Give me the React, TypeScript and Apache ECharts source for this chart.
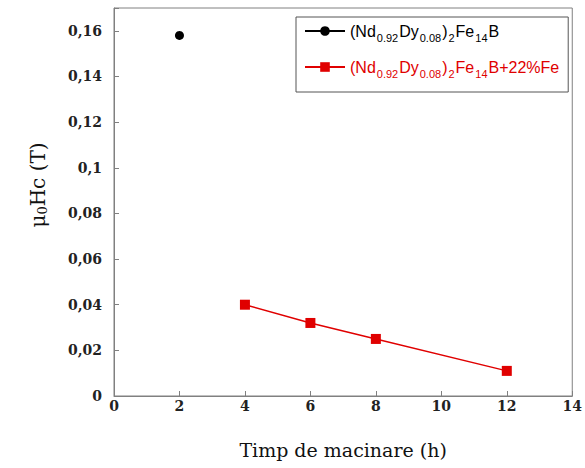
import React, { useEffect, useRef } from "react";
import * as echarts from "echarts";

const seriesNames = ["(Nd0.92Dy0.08)2Fe14B", "(Nd0.92Dy0.08)2Fe14B+22%Fe"];
const seriesColors = ["#000000", "#e00000"];
const seriesSymbols = ["circle", "rect"];
const hoursA = [2];
const valuesA = [0.158];
const hoursB = [4, 6, 8, 12];
const valuesB = [0.04, 0.032, 0.025, 0.011];
const xTickValues = [0, 2, 4, 6, 8, 10, 12, 14];
const yTickValues = [0, 0.02, 0.04, 0.06, 0.08, 0.1, 0.12, 0.14, 0.16];

const legendRich = (color: string) => ({
  m: { fontSize: 16, fontFamily: "Liberation Sans", color, lineHeight: 24, verticalAlign: "middle" },
  s: { fontSize: 11, fontFamily: "Liberation Sans", color, lineHeight: 24, verticalAlign: "bottom", padding: [0, 1, 0, 1] },
});

export default function App() {
  const ref = useRef<HTMLDivElement>(null);
  useEffect(() => {
    const chart = echarts.init(ref.current!, undefined, { renderer: "svg" });
    const fmtNum = (v: number) => {
      if (yTickValues.every((t) => Math.abs(t - v) > 1e-9)) return "";
      return v === 0 ? "0" : String(+v.toFixed(2)).replace(".", ",");
    };
    chart.setOption({
      animation: false,
      backgroundColor: "#ffffff",
      grid: {
        left: 114,
        top: 8,
        right: 10,
        bottom: 72,
        show: true,
        borderColor: "#808080",
        borderWidth: 1,
      },
      legend: {
        orient: "vertical",
        left: 296,
        top: 17,
        itemWidth: 40,
        itemHeight: 12,
        itemGap: 16,
        padding: [6, 9, 13, 8],
        borderColor: "#555555",
        borderWidth: 1,
        data: seriesNames.map((n, i) => ({ name: n, textStyle: { color: seriesColors[i], rich: legendRich(seriesColors[i]) } })),
        formatter: (name: string) => {
          const base = "{m|(Nd}{s|0.92}{m|Dy}{s|0.08}{m|)}{s|2}{m|Fe}{s|14}{m|B";
          return name.endsWith("+22%Fe") ? base + "+22%Fe}" : base + "}";
        },
      },
      xAxis: {
        type: "value",
        min: 0,
        max: 14,
        interval: 2,
        name: "Timp de macinare (h)",
        nameLocation: "middle",
        nameGap: 44,
        nameTextStyle: { fontFamily: "DejaVu Serif", fontSize: 19, color: "#111" },
        axisLine: { show: true, lineStyle: { color: "#808080", width: 1 } },
        axisTick: { show: true, inside: true, length: 5, lineStyle: { color: "#808080" } },
        axisLabel: {
          margin: 3,
          fontFamily: "DejaVu Serif",
          fontSize: 14,
          fontWeight: "bold",
          color: "#222",
          formatter: (v: number) => (xTickValues.includes(v) ? String(v) : ""),
        },
        splitLine: { show: false },
      },
      yAxis: {
        type: "value",
        min: 0,
        max: 0.17,
        interval: 0.02,
        name: "{m|μ}{s|0}{m|Hc (T)}",
        nameLocation: "middle",
        nameGap: 65,
        nameTextStyle: {
          padding: [0, 0, 0, 34],
          rich: {
            m: { fontFamily: "DejaVu Serif", fontSize: 20, color: "#111", lineHeight: 22, verticalAlign: "middle" },
            s: { fontFamily: "DejaVu Serif", fontSize: 13, color: "#111", lineHeight: 22, verticalAlign: "bottom" },
          },
        },
        axisLine: { show: true, lineStyle: { color: "#808080", width: 1 } },
        axisTick: { show: true, inside: true, length: 5, lineStyle: { color: "#808080" } },
        axisLabel: {
          margin: 12,
          fontFamily: "DejaVu Serif",
          fontSize: 14,
          fontWeight: "bold",
          color: "#222",
          formatter: fmtNum,
        },
        splitLine: { show: false },
      },
      series: [
        {
          name: seriesNames[0],
          type: "line",
          data: hoursA.map((h, i) => [h, valuesA[i]]),
          symbol: seriesSymbols[0],
          symbolSize: 9,
          itemStyle: { color: seriesColors[0] },
          lineStyle: { color: seriesColors[0], width: 1.5 },
        },
        {
          name: seriesNames[1],
          type: "line",
          data: hoursB.map((h, i) => [h, valuesB[i]]),
          symbol: seriesSymbols[1],
          symbolSize: 10,
          itemStyle: { color: seriesColors[1] },
          lineStyle: { color: seriesColors[1], width: 1.5 },
        },
      ],
    });
    return () => chart.dispose();
  }, []);
  return (
    <div
      ref={ref}
      style={{ position: "fixed", left: 0, top: 0, width: 585, height: 468, background: "#fff" }}
    />
  );
}
